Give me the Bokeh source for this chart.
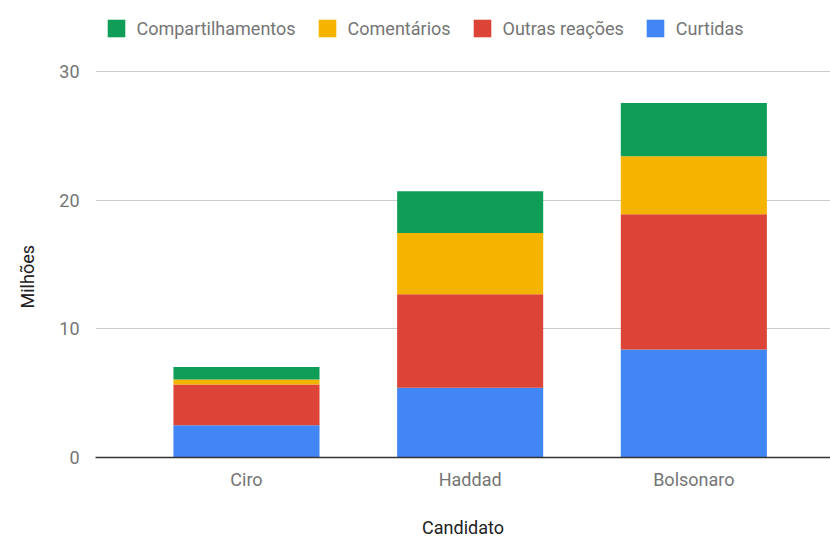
from bokeh.plotting import figure
from bokeh.models import Range1d, FixedTicker, Legend, LegendItem, ColumnDataSource, Title
from bokeh.embed import file_html
from bokeh.resources import INLINE

candidatos = ["Ciro", "Haddad", "Bolsonaro"]
series = ["Curtidas", "Outras reações", "Comentários", "Compartilhamentos"]
curtidas = [2.51, 5.43, 8.40]
outras_reacoes = [3.16, 7.25, 10.50]
comentarios = [0.39, 4.76, 4.52]
compartilhamentos = [0.97, 3.26, 4.14]
colors = ["#4285f4", "#db4437", "#f4b400", "#0f9d58"]
y_ticks = [0, 10, 20, 30]

FONT = "Roboto"
FS = "18px"
xs = [i + 0.5 for i in range(len(candidatos))]
data = {"x": xs, "Curtidas": curtidas, "Outras reações": outras_reacoes,
        "Comentários": comentarios, "Compartilhamentos": compartilhamentos}
src = ColumnDataSource(data)

# y range extended above 30 so the legend area lies inside the frame
p = figure(width=830, height=540, output_backend="svg", toolbar_location=None,
           x_range=Range1d(-0.175, 3.111), y_range=Range1d(0, 35.52),
           min_border_left=95, min_border_right=0, min_border_top=0, min_border_bottom=83)
p.outline_line_color = None

rends = p.vbar_stack(series, x="x", width=0.653, color=colors, source=src, line_color=None)

p.xaxis.ticker = FixedTicker(ticks=xs)
p.xaxis.major_label_overrides = {x: c for x, c in zip(xs, candidatos)}
p.yaxis.ticker = FixedTicker(ticks=y_ticks)

for ax in (p.xaxis[0], p.yaxis[0]):
    ax.major_tick_line_color = None
    ax.minor_tick_line_color = None
    ax.major_label_text_font = FONT
    ax.major_label_text_font_size = FS
    ax.major_label_text_color = "#757575"
    ax.axis_label_text_font = FONT
    ax.axis_label_text_font_size = FS
    ax.axis_label_text_font_style = "normal"
    ax.axis_label_text_color = "#222222"

p.yaxis.axis_line_color = None
p.yaxis.major_label_standoff = 10
p.xaxis.axis_line_color = "#333333"
p.xaxis.axis_line_width = 1.5
p.xaxis.major_label_standoff = 5
p.xaxis.axis_label = "Candidato"
p.xaxis.axis_label_standoff = 24

ytitle = Title(text="Milhões", align="left", offset=149, standoff=33, vertical_align="top",
               text_font=FONT, text_font_size=FS, text_font_style="normal",
               text_color="#222222")
p.add_layout(ytitle, "left")

p.xgrid.grid_line_color = None
p.ygrid.grid_line_color = "#cccccc"
p.ygrid.grid_line_width = 1

items = [LegendItem(label=s, renderers=[r]) for s, r in zip(series, rends)][::-1]
legend = Legend(items=items, orientation="horizontal", location=(9.5, 418),
                label_text_font=FONT, label_text_font_size=FS, label_text_color="#757575",
                glyph_width=22, glyph_height=22, label_standoff=10, spacing=20,
                padding=0, margin=0, border_line_color=None, background_fill_alpha=0)
p.add_layout(legend, "center")

open("out.html", "w").write(file_html(p, INLINE))
